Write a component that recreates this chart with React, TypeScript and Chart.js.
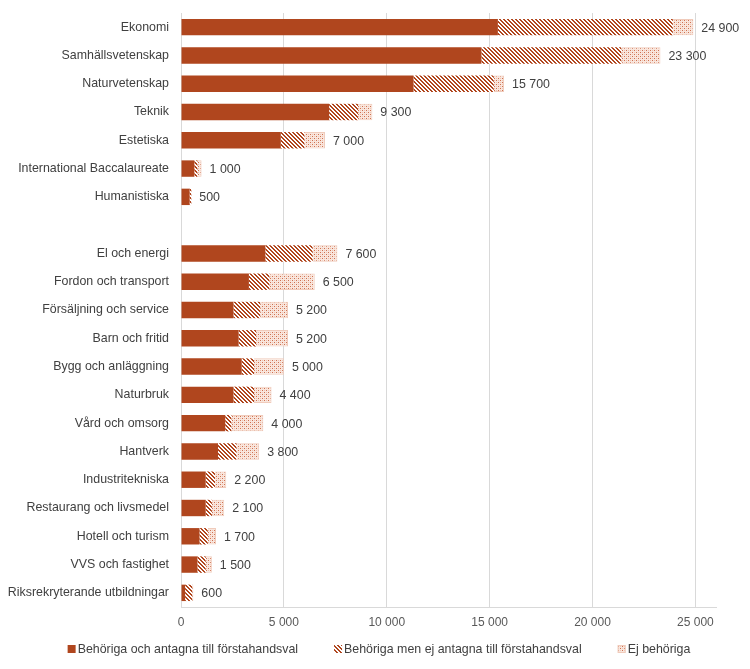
import React, { useEffect, useRef } from "react";
import { Chart, registerables } from "chart.js";

Chart.register(...registerables);

const categories: string[] = [
  "Ekonomi",
  "Samhällsvetenskap",
  "Naturvetenskap",
  "Teknik",
  "Estetiska",
  "International Baccalaureate",
  "Humanistiska",
  "",
  "El och energi",
  "Fordon och transport",
  "Försäljning och service",
  "Barn och fritid",
  "Bygg och anläggning",
  "Naturbruk",
  "Vård och omsorg",
  "Hantverk",
  "Industritekniska",
  "Restaurang och livsmedel",
  "Hotell och turism",
  "VVS och fastighet",
  "Riksrekryterande utbildningar",
];

const antagna: (number | null)[] = [
  15400, 14600, 11300, 7200, 4850, 650, 420, null,
  4100, 3300, 2550, 2800, 2950, 2550, 2150, 1800, 1200, 1200, 900, 800, 200,
];
const ejAntagna: (number | null)[] = [
  8500, 6800, 3900, 1400, 1150, 150, 80, null,
  2300, 1000, 1300, 850, 600, 1000, 300, 900, 450, 300, 400, 400, 350,
];
const ejBehoriga: (number | null)[] = [
  1000, 1900, 500, 700, 1000, 200, 0, null,
  1200, 2200, 1350, 1550, 1450, 850, 1550, 1100, 550, 600, 400, 300, 50,
];

const seriesNames: string[] = [
  "Behöriga och antagna till förstahandsval",
  "Behöriga men ej antagna till förstahandsval",
  "Ej behöriga",
];

const xTicks: number[] = [0, 5000, 10000, 15000, 20000, 25000];

const MAIN = "#B0461E";
const FONT = "'Liberation Sans', Arial, sans-serif";
const FSIZE = 12.4;

function fmt(v: number): string {
  return String(Math.round(v)).replace(/\B(?=(\d{3})+(?!\d))/g, " ");
}

function makeHatch(): CanvasPattern | string {
  const c = document.createElement("canvas");
  c.width = 4;
  c.height = 4;
  const ctx = c.getContext("2d");
  if (!ctx) return MAIN;
  ctx.fillStyle = "#ffffff";
  ctx.fillRect(0, 0, 4, 4);
  ctx.fillStyle = MAIN;
  for (let y = 0; y < 4; y++) {
    for (let x = 0; x < 4; x++) {
      if ((x - y + 8) % 4 < 2) ctx.fillRect(x, y, 1, 1);
    }
  }
  return ctx.createPattern(c, "repeat") || MAIN;
}

function makeDots(): CanvasPattern | string {
  const c = document.createElement("canvas");
  c.width = 4;
  c.height = 4;
  const ctx = c.getContext("2d");
  if (!ctx) return "#f3d5c8";
  ctx.fillStyle = "#f9e6dd";
  ctx.fillRect(0, 0, 4, 4);
  ctx.fillStyle = "#cf7150";
  ctx.fillRect(0, 0, 1, 1);
  ctx.fillRect(2, 2, 1, 1);
  ctx.fillStyle = "#eec3b2";
  ctx.fillRect(2, 0, 1, 1);
  ctx.fillRect(0, 2, 1, 1);
  return ctx.createPattern(c, "repeat") || "#f3d5c8";
}

const totalsPlugin = {
  id: "totals",
  afterDatasetsDraw(chart: any) {
    const ctx = chart.ctx;
    const xs = chart.scales.x;
    const ys = chart.scales.y;
    ctx.save();
    ctx.font = `${FSIZE}px ${FONT}`;
    ctx.fillStyle = "#404040";
    ctx.textAlign = "left";
    ctx.textBaseline = "middle";
    categories.forEach((cat, i) => {
      if (!cat) return;
      const total =
        (antagna[i] || 0) + (ejAntagna[i] || 0) + (ejBehoriga[i] || 0);
      const x = xs.getPixelForValue(total) + 8;
      const y = ys.getPixelForValue(i);
      ctx.fillText(fmt(Math.round(total / 100) * 100), x, y + 1);
    });
    ctx.restore();
  },
};

const legendPlugin = {
  id: "customLegend",
  afterDraw(chart: any) {
    const ctx = chart.ctx;
    const ds = chart.data.datasets;
    ctx.save();
    ctx.font = `${FSIZE}px ${FONT}`;
    ctx.textBaseline = "middle";
    ctx.textAlign = "left";
    const box = 8;
    const gapText = 2;
    const gapItem = 36;
    const widths = ds.map((d: any) => box + gapText + ctx.measureText(d.label).width);
    const total =
      widths.reduce((a: number, b: number) => a + b, 0) + gapItem * (ds.length - 1);
    let x = 379 - total / 2;
    const y = 649;
    ds.forEach((d: any, i: number) => {
      ctx.fillStyle = d.backgroundColor;
      ctx.fillRect(x, y - box / 2, box, box);
      if (d.borderWidth) {
        ctx.strokeStyle = d.borderColor;
        ctx.lineWidth = 1;
        ctx.strokeRect(x + 0.5, y - box / 2 + 0.5, box - 1, box - 1);
      }
      ctx.fillStyle = "#404040";
      ctx.fillText(d.label, x + box + gapText, y + 1);
      x += widths[i] + gapItem;
    });
    ctx.restore();
  },
};

export default function App() {
  const ref = useRef<HTMLCanvasElement | null>(null);

  useEffect(() => {
    if (!ref.current) return;
    const hatch = makeHatch();
    const dots = makeDots();
    const chart = new Chart(ref.current, {
      type: "bar",
      data: {
        labels: categories,
        datasets: [
          {
            label: seriesNames[0],
            data: antagna as any,
            backgroundColor: MAIN,
            borderWidth: 0,
          },
          {
            label: seriesNames[1],
            data: ejAntagna as any,
            backgroundColor: hatch as any,
            borderWidth: 0,
          },
          {
            label: seriesNames[2],
            data: ejBehoriga as any,
            backgroundColor: dots as any,
            borderColor: "#f0cbbb",
            borderWidth: 1,
          },
        ],
      },
      options: {
        indexAxis: "y",
        animation: false,
        responsive: false,
        maintainAspectRatio: false,
        layout: { padding: { top: 13, right: 34, left: 0, bottom: 36 } },
        datasets: {
          bar: { barPercentage: 0.58, categoryPercentage: 1 },
        },
        scales: {
          x: {
            stacked: true,
            min: 0,
            max: 26000,
            afterBuildTicks: (s: any) => {
              s.ticks = xTicks.map((v) => ({ value: v }));
            },
            afterFit: (s: any) => {
              s.height = 26;
              s.paddingLeft = 0;
              s.paddingRight = 0;
            },
            grid: { color: "#d9d9d9", drawTicks: false, lineWidth: 1 },
            border: { display: true, color: "#d9d9d9" },
            ticks: {
              padding: 8,
              color: "#595959",
              font: { family: FONT, size: 12 },
              callback: (v: any) => fmt(Number(v)),
            },
          },
          y: {
            stacked: true,
            afterFit: (s: any) => {
              s.width = 181;
              s.paddingTop = 0;
              s.paddingBottom = 0;
            },
            grid: { display: false, drawTicks: false },
            border: { display: false },
            ticks: {
              padding: 12,
              color: "#404040",
              autoSkip: false,
              font: { family: FONT, size: FSIZE },
            },
          },
        },
        plugins: {
          legend: { display: false },
          tooltip: { enabled: false },
        },
      },
      plugins: [totalsPlugin, legendPlugin],
    });
    return () => chart.destroy();
  }, []);

  return (
    <div
      style={{
        position: "absolute",
        left: 0,
        top: 0,
        width: 750,
        height: 669,
        background: "#fff",
      }}
    >
      <canvas ref={ref} width={750} height={669} />
    </div>
  );
}
